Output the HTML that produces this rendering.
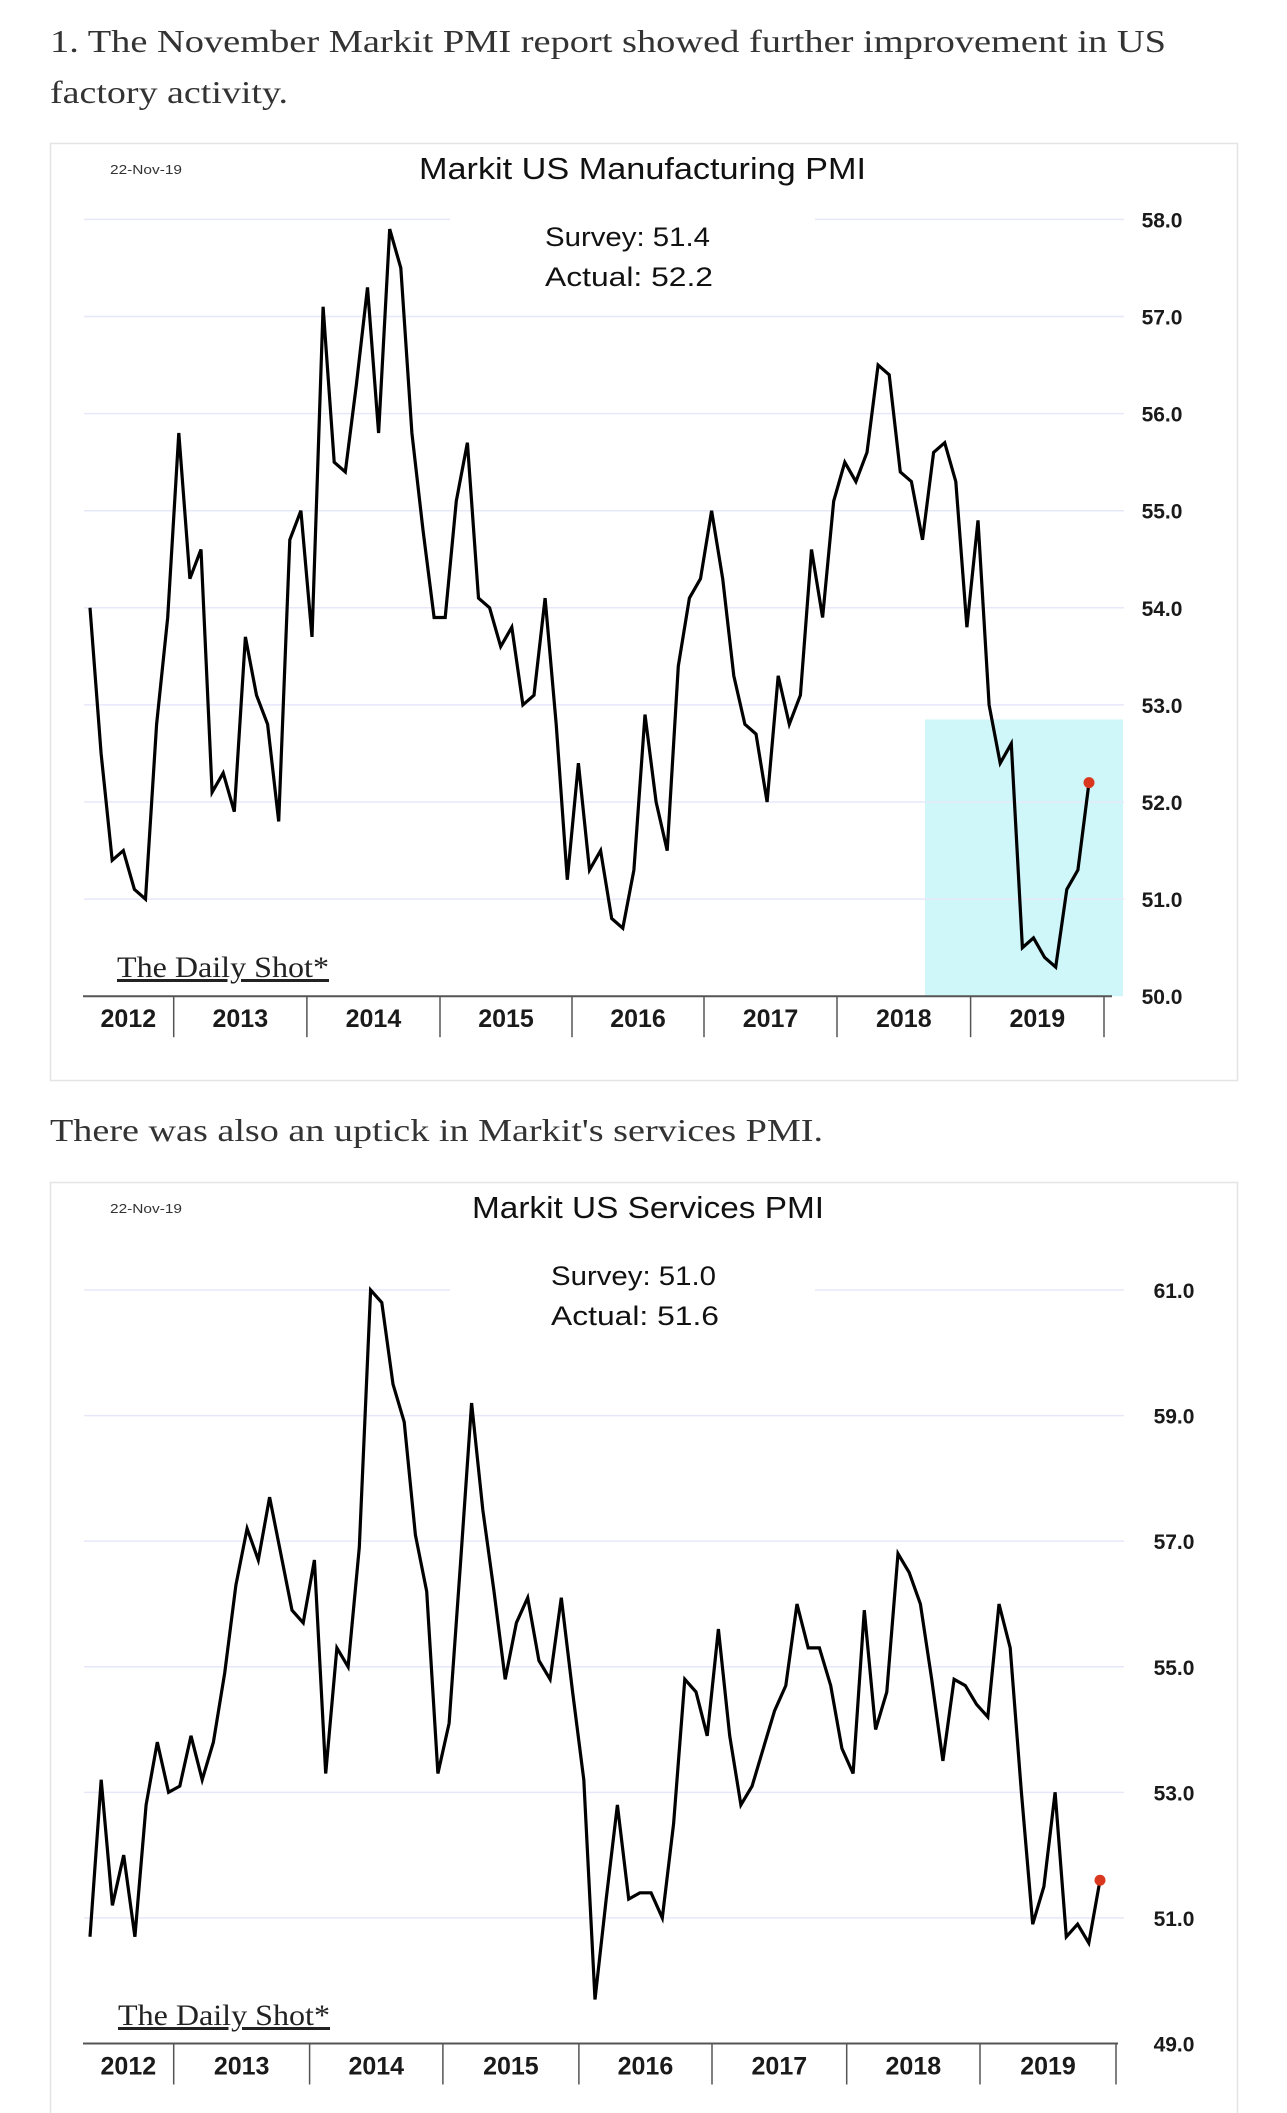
<!DOCTYPE html>
<html><head><meta charset="utf-8"><style>
html,body{margin:0;padding:0;background:#fff;}
svg{display:block;}
</style></head><body>
<svg id="page" width="1287" height="2113" viewBox="0 0 1287 2113" xmlns="http://www.w3.org/2000/svg">
<g font-family="'Liberation Serif', serif" font-size="32" fill="#333">
<text x="50" y="52" textLength="1116" lengthAdjust="spacingAndGlyphs">1. The November Markit PMI report showed further improvement in US</text>
<text x="50" y="103" textLength="238" lengthAdjust="spacingAndGlyphs">factory activity.</text>
<text x="50" y="1141" textLength="773" lengthAdjust="spacingAndGlyphs">There was also an uptick in Markit's services PMI.</text>
</g>
<g id="chart1"></g>
<g id="chart2"></g>
</svg>
<script>
const mfgValues = [54.0,52.5,51.4,51.5,51.1,51.0,52.8,53.9,55.8,54.3,54.6,52.1,52.3,51.9,53.7,53.1,52.8,51.8,54.7,55.0,53.7,57.1,55.5,55.4,56.3,57.3,55.8,57.9,57.5,55.8,54.8,53.9,53.9,55.1,55.7,54.1,54.0,53.6,53.8,53.0,53.1,54.1,52.8,51.2,52.4,51.3,51.5,50.8,50.7,51.3,52.9,52.0,51.5,53.4,54.1,54.3,55.0,54.3,53.3,52.8,52.7,52.0,53.3,52.8,53.1,54.6,53.9,55.1,55.5,55.3,55.6,56.5,56.4,55.4,55.3,54.7,55.6,55.7,55.3,53.8,54.9,53.0,52.4,52.6,50.5,50.6,50.4,50.3,51.1,51.3,52.2];
const mfgTicks = [50,51,52,53,54,55,56,57,58];
const svcValues = [50.7,53.2,51.2,52.0,50.7,52.8,53.8,53.0,53.1,53.9,53.2,53.8,54.9,56.3,57.2,56.7,57.7,56.8,55.9,55.7,56.7,53.3,55.3,55.0,56.9,61.0,60.8,59.5,58.9,57.1,56.2,53.3,54.1,56.6,59.2,57.5,56.2,54.8,55.7,56.1,55.1,54.8,56.1,54.6,53.2,49.7,51.3,52.8,51.3,51.4,51.4,51.0,52.5,54.8,54.6,53.9,55.6,53.9,52.8,53.1,53.7,54.3,54.7,56.0,55.3,55.3,54.7,53.7,53.3,55.9,54.0,54.6,56.8,56.5,56.0,54.8,53.5,54.8,54.7,54.4,54.2,56.0,55.3,53.0,50.9,51.5,53.0,50.7,50.9,50.6,51.6];
const svcTicks = [49,51,53,55,57,59,61];
const yearLabels = ["2012","2013","2014","2015","2016","2017","2018","2019"];

const NS="http://www.w3.org/2000/svg";
function mk(tag, attrs, parent){const e=document.createElementNS(NS,tag);for(const k in attrs)e.setAttribute(k,attrs[k]);parent.appendChild(e);return e;}

function drawChart(g, cfg){
  const yS = v => cfg.yTop + (cfg.vMax - v)/(cfg.vMax - cfg.vMin)*(cfg.yBot - cfg.yTop);
  const xS = i => cfg.x0 + i*(cfg.x1 - cfg.x0)/(cfg.values.length-1);
  const frame = mk('rect',{x:50.5,y:cfg.fy+0.5,width:1187,height:cfg.fh,fill:'#fff',stroke:'#e4e4e4','stroke-width':1.5},g);
  
  
  if(cfg.box){
    const b = mk('rect',{x:cfg.box[0],y:yS(cfg.box[2]),width:cfg.box[1]-cfg.box[0],height:yS(cfg.vMin)-yS(cfg.box[2]),fill:'#cff6f9'},g);
    
    
  }
  cfg.ticks.forEach((t,k)=>{
    const y=yS(t);
    if(t!==cfg.vMin){
      if(t===cfg.vMax){
        const l1=mk('line',{x1:84,x2:450,y1:y,y2:y,stroke:'#e6e8fa','stroke-width':1.5},g);
        
        
        const l2=mk('line',{x1:815,x2:1124,y1:y,y2:y,stroke:'#e6e8fa','stroke-width':1.5},g);
        
        
      } else {
        const l=mk('line',{x1:84,x2:1124,y1:y,y2:y,stroke:'#e6e8fa','stroke-width':1.5},g);
        
        
      }
    }
    const tx=mk('text',{x:cfg.labX,y:y+8,'text-anchor':'middle','font-family':"'Liberation Sans', sans-serif",'font-size':21,'font-weight':'bold',fill:'#1a1a1a'},g);
    tx.textContent=t.toFixed(1);
    
    
  });
  const ax=mk('line',{x1:83,x2:cfg.axEnd,y1:yS(cfg.vMin),y2:yS(cfg.vMin),stroke:'#555','stroke-width':2},g);
  
  
  const yAx=yS(cfg.vMin);
  cfg.yearTicks.forEach((xt,k)=>{
    const tk=mk('line',{x1:xt,x2:xt,y1:yAx,y2:yAx+41,stroke:'#555','stroke-width':1.5},g);
    
    
  });
  yearLabels.forEach((lab,k)=>{
    const left = k===0 ? 83 : cfg.yearTicks[k-1];
    const cx=(left+cfg.yearTicks[k])/2;
    const t=mk('text',{x:cx,y:yAx+31,'text-anchor':'middle','font-family':"'Liberation Sans', sans-serif",'font-size':25,'font-weight':'bold',fill:'#1a1a1a'},g);
    t.textContent=lab;
    
    
  });
  const d=cfg.values.map((v,i)=>(i?'L':'M')+xS(i).toFixed(1)+','+yS(v).toFixed(1)).join(' ');
  const p=mk('path',{d:d,fill:'none',stroke:'#000','stroke-width':3.2,'stroke-linejoin':'miter'},g);
  
  
  const n=cfg.values.length-1;
  const dot=mk('circle',{cx:xS(n),cy:yS(cfg.values[n]),r:5.5,fill:'#d9381e'},g);
  
  
  const dt=mk('text',{x:110,y:cfg.fy+31,'font-family':"'Liberation Sans', sans-serif",'font-size':13,fill:'#333',textLength:72,lengthAdjust:'spacingAndGlyphs'},g);
  dt.textContent='22-Nov-19';
  
  
  const ti=mk('text',{x:cfg.titleX[0],y:cfg.fy+36,'font-family':"'Liberation Sans', sans-serif",'font-size':31,fill:'#111',textLength:cfg.titleX[1]-cfg.titleX[0],lengthAdjust:'spacingAndGlyphs'},g);
  ti.textContent=cfg.title;
  
  
  const s1=mk('text',{x:cfg.survX,y:cfg.survY,'font-family':"'Liberation Sans', sans-serif",'font-size':27,fill:'#111',textLength:165,lengthAdjust:'spacingAndGlyphs'},g);
  s1.textContent=cfg.survey;
  
  
  const s2=mk('text',{x:cfg.survX,y:cfg.survY+40,'font-family':"'Liberation Sans', sans-serif",'font-size':27,fill:'#111',textLength:168,lengthAdjust:'spacingAndGlyphs'},g);
  s2.textContent=cfg.actual;
  
  
  const ds=mk('text',{x:cfg.dsX,y:cfg.dsY,'font-family':"'Liberation Serif', serif",'font-size':30,fill:'#222','text-decoration':'underline',textLength:212,lengthAdjust:'spacingAndGlyphs'},g);
  ds.textContent='The Daily Shot*';
  
  
}

drawChart(document.getElementById('chart1'),{
  values:mfgValues, ticks:mfgTicks, vMin:50, vMax:58, yTop:219.4, yBot:996.2,
  x0:90, x1:1089, fy:143, fh:937, labX:1162, axEnd:1112,
  yearTicks:[173.7,306.9,440,572,704,837,970.6,1104],
  box:[925,1123,52.85], title:'Markit US Manufacturing PMI', titleX:[419,866],
  survey:'Survey: 51.4', actual:'Actual:  52.2', survX:545, survY:246,
  dsX:117, dsY:977
});
drawChart(document.getElementById('chart2'),{
  values:svcValues, ticks:svcTicks, vMin:49, vMax:61, yTop:1290, yBot:2043.5,
  x0:90, x1:1100, fy:1182, fh:940, labX:1174, axEnd:1118,
  yearTicks:[173.7,309.6,442.9,578.9,712,846.7,980,1116],
  box:null, title:'Markit US Services PMI', titleX:[472,824],
  survey:'Survey: 51.0', actual:'Actual:  51.6', survX:551, survY:1285,
  dsX:118, dsY:2025
});
</script>
</body></html>
